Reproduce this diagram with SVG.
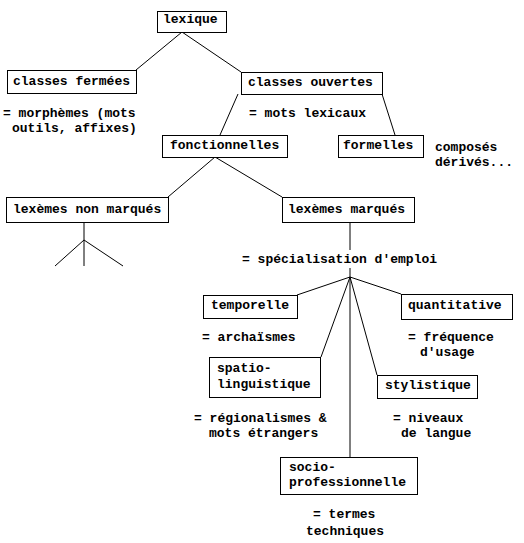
<svg xmlns="http://www.w3.org/2000/svg" width="524" height="543" viewBox="0 0 524 543">
<style>
rect.box{fill:#fff;stroke:#000;stroke-width:1}
text{font-family:"Liberation Mono","Courier New",monospace;font-size:13px;font-weight:bold;fill:#000}
#connectors line{stroke:#000;stroke-width:1}
</style>
<rect width="524" height="543" fill="#fff"/>
<g id="connectors">
<line x1="182" y1="32" x2="136" y2="70"/>
<line x1="182" y1="32" x2="241" y2="72"/>
<line x1="238" y1="94" x2="220" y2="135"/>
<line x1="382" y1="94" x2="395" y2="135"/>
<line x1="215" y1="157" x2="168" y2="197"/>
<line x1="215" y1="157" x2="282" y2="197"/>
<line x1="84" y1="222" x2="84" y2="266"/>
<line x1="84" y1="240" x2="55" y2="266"/>
<line x1="84" y1="240" x2="123" y2="266"/>
<line x1="350" y1="222" x2="350" y2="250"/>
<line x1="350" y1="268" x2="350" y2="457"/>
<line x1="350" y1="277" x2="297" y2="295"/>
<line x1="350" y1="277" x2="401" y2="294"/>
<line x1="350" y1="277" x2="321" y2="357"/>
<line x1="350" y1="277" x2="377" y2="375"/>
</g>
<g id="lexique"><rect class="box" x="157.5" y="11.5" width="69" height="21"/><text x="163" y="22.5">lexique</text></g>
<g id="classes-fermees"><rect class="box" x="7.5" y="70.5" width="129" height="23"/><text x="13" y="85">classes fermées</text></g>
<g id="classes-ouvertes"><rect class="box" x="241.5" y="72.5" width="141" height="22"/><text x="248" y="86">classes ouvertes</text></g>
<g id="fonctionnelles"><rect class="box" x="162.5" y="135.5" width="125" height="22"/><text x="170" y="149">fonctionnelles</text></g>
<g id="formelles"><rect class="box" x="338.5" y="135.5" width="85" height="22"/><text x="343" y="149">formelles</text></g>
<g id="lexemes-non-marques"><rect class="box" x="6.5" y="197.5" width="162" height="25"/><text x="13" y="213">lexèmes non marqués</text></g>
<g id="lexemes-marques"><rect class="box" x="282.5" y="197.5" width="132" height="25"/><text x="288" y="213">lexèmes marqués</text></g>
<g id="temporelle"><rect class="box" x="203.5" y="295.5" width="94" height="23"/><text x="211" y="309">temporelle</text></g>
<g id="quantitative"><rect class="box" x="401.5" y="294.5" width="111" height="25"/><text x="408" y="309">quantitative</text></g>
<g id="spatio-linguistique"><rect class="box" x="209.5" y="357.5" width="111" height="40"/><text x="217" y="372">spatio-</text><text x="217" y="388">linguistique</text></g>
<g id="stylistique"><rect class="box" x="377.5" y="375.5" width="100" height="23"/><text x="385" y="389">stylistique</text></g>
<g id="socio-professionnelle"><rect class="box" x="280.5" y="457.5" width="137" height="37"/><text x="289" y="471">socio-</text><text x="289" y="486">professionnelle</text></g>
<g id="notes">
<text x="3" y="117">= morphèmes (mots</text>
<text x="12" y="132">outils, affixes)</text>
<text x="249" y="117">= mots lexicaux</text>
<text x="435" y="151">composés</text>
<text x="435" y="166">dérivés...</text>
<text x="242" y="263">= spécialisation d'emploi</text>
<text x="202" y="341">= archaïsmes</text>
<text x="408" y="341">= fréquence</text>
<text x="420" y="356">d'usage</text>
<text x="194" y="422">= régionalismes &amp;</text>
<text x="209" y="437">mots étrangers</text>
<text x="393" y="422">= niveaux</text>
<text x="401" y="437">de langue</text>
<text x="313" y="518">= termes</text>
<text x="306" y="535">techniques</text>
</g>
</svg>
